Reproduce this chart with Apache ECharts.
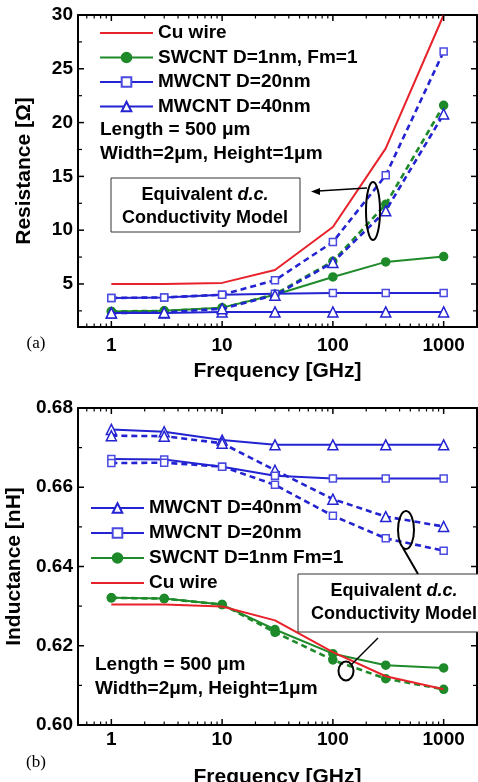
<!DOCTYPE html>
<html>
<head>
<meta charset="utf-8">
<script src="https://cdn.jsdelivr.net/npm/echarts@6/dist/echarts.min.js"></script>
<style>
html,body{margin:0;padding:0;background:#fff;}
#chart{width:478px;height:782px;}
</style>
</head>
<body>
<div id="chart"></div>
<script>
// ---------- DATA ----------
const freq = [1, 3, 10, 30, 100, 300, 1000];
const xMajorTicks = [1, 10, 100, 1000];
const xMinorTicks = [0.6, 0.7, 0.8, 0.9, 2, 3, 4, 5, 6, 7, 8, 9, 20, 30, 40, 50, 60, 70, 80, 90, 200, 300, 400, 500, 600, 700, 800, 900];

// (a) Resistance [Ohm]
const resTicks = [5, 10, 15, 20, 25, 30];
const resMinorTicks = [2.5, 7.5, 12.5, 17.5, 22.5, 27.5];
const resCu     = [5.0, 5.0, 5.1, 6.3, 10.3, 17.6, 30.0];
const resSW     = [2.45, 2.5, 2.8, 4.0, 5.65, 7.05, 7.55];
const resSWdc   = [2.45, 2.5, 2.75, 4.05, 7.1, 12.4, 21.6];
const resMW20   = [3.7, 3.75, 4.0, 4.1, 4.15, 4.15, 4.15];
const resMW20dc = [3.7, 3.75, 4.0, 5.35, 8.9, 15.1, 26.6];
const resMW40   = [2.3, 2.3, 2.4, 2.4, 2.4, 2.4, 2.4];
const resMW40dc = [2.3, 2.35, 2.7, 3.95, 7.0, 11.8, 20.8];

// (b) Inductance [nH]
const indTicks = [0.60, 0.62, 0.64, 0.66, 0.68];
const indMinorTicks = [0.61, 0.63, 0.65, 0.67];
const indMW40   = [0.6746, 0.6740, 0.6719, 0.6707, 0.6707, 0.6707, 0.6707];
const indMW40dc = [0.6730, 0.6729, 0.6711, 0.6643, 0.6570, 0.6526, 0.6501];
const indMW20   = [0.6671, 0.6670, 0.6652, 0.6629, 0.6622, 0.6622, 0.6622];
const indMW20dc = [0.6661, 0.6662, 0.6652, 0.6606, 0.6528, 0.6471, 0.6440];
const indSW     = [0.6321, 0.6319, 0.6304, 0.6241, 0.6180, 0.6151, 0.6144];
const indSWdc   = [0.6321, 0.6319, 0.6304, 0.6234, 0.6164, 0.6117, 0.6090];
const indCu     = [0.6304, 0.6304, 0.6299, 0.6264, 0.6184, 0.6123, 0.6090];

// ---------- STYLE ----------
const FONT = 'Liberation Sans, Arial, sans-serif';
const RED = '#e8222a', GREEN = '#1e8a2a', BLUE = '#2323d2', BLUE2 = '#4a4ae0';
const X_MIN = 0.5, X_MAX = 2000;
const RANGES = [[1, 30], [0.60, 0.68]];
const pairs = arr => freq.map((f, i) => [f, arr[i]]);

function xAxesFor(g, nameGap, labelMargin) {
  const base = {type: 'log', logBase: 10, gridIndex: g, min: X_MIN, max: X_MAX, splitLine: {show: false}, axisTick: {show: false}};
  const line = {show: true, onZero: false, lineStyle: {color: '#000', width: 2}};
  return [
    Object.assign({}, base, {
      position: 'bottom', axisLine: line,
      axisLabel: {show: true, customValues: xMajorTicks, formatter: v => String(Math.round(v)), margin: labelMargin,
        color: '#000', fontFamily: FONT, fontWeight: 'bold', fontSize: 19},
      name: 'Frequency [GHz]', nameLocation: 'middle', nameGap: nameGap,
      nameTextStyle: {color: '#000', fontFamily: FONT, fontWeight: 'bold', fontSize: 21}
    }),
    Object.assign({}, base, {position: 'top', axisLine: line, axisLabel: {show: false}})
  ];
}

function yAxesFor(g, major, fmt, name) {
  const base = {type: 'value', gridIndex: g, min: RANGES[g][0], max: RANGES[g][1], splitLine: {show: false}, axisTick: {show: false}};
  const line = {show: true, onZero: false, lineStyle: {color: '#000', width: 2}};
  return [
    Object.assign({}, base, {
      position: 'left', axisLine: line,
      axisLabel: {show: true, customValues: major, formatter: fmt, margin: 5, color: '#000', fontFamily: FONT, fontWeight: 'bold', fontSize: 19},
      name: name, nameLocation: 'middle', nameGap: 43, nameRotate: 90,
      nameTextStyle: {color: '#000', fontFamily: FONT, fontWeight: 'bold', fontSize: 21}
    }),
    Object.assign({}, base, {position: 'right', axisLine: line, axisLabel: {show: false}})
  ];
}

// tick marks drawn inside the frame through the axes' own scales
function tickSeries(g, values, dir, len) {
  const yr = RANGES[g];
  const data = values.map(v => dir === 'x' ? [v, yr[0]] : [X_MIN, v]);
  return {
    type: 'custom', xAxisIndex: g * 2, yAxisIndex: g * 2, silent: true, clip: false, z: 6,
    data: data, animation: false,
    renderItem: function (params, api) {
      const st = {stroke: '#000', lineWidth: len > 4 ? 1.5 : 1.2};
      if (dir === 'x') {
        const v = api.value(0);
        const a = api.coord([v, yr[0]]), b = api.coord([v, yr[1]]);
        return {type: 'group', children: [
          {type: 'line', shape: {x1: a[0], y1: a[1], x2: a[0], y2: a[1] - len}, style: st},
          {type: 'line', shape: {x1: b[0], y1: b[1], x2: b[0], y2: b[1] + len}, style: st}
        ]};
      }
      const v = api.value(1);
      const a = api.coord([X_MIN, v]), b = api.coord([X_MAX, v]);
      return {type: 'group', children: [
        {type: 'line', shape: {x1: a[0], y1: a[1], x2: a[0] + len, y2: a[1]}, style: st},
        {type: 'line', shape: {x1: b[0], y1: b[1], x2: b[0] - len, y2: b[1]}, style: st}
      ]};
    }
  };
}

function ser(name, data, g, color, opts) {
  const o = Object.assign({dashed: false, symbol: 'none', size: 7, fill: color, symColor: color}, opts || {});
  return {
    name: name, type: 'line', xAxisIndex: g * 2, yAxisIndex: g * 2,
    data: pairs(data), z: o.z || 3,
    showSymbol: o.symbol !== 'none', symbol: o.symbol, symbolSize: o.size,
    lineStyle: {color: color, width: o.dashed ? 2.6 : 2, type: o.dashed ? [6, 4] : 'solid'},
    itemStyle: {color: o.fill, borderColor: o.symColor, borderWidth: o.symbol === 'none' ? 0 : 1.5},
    emphasis: {disabled: true}, animation: false, clip: true
  };
}

const series = [
  // (a)
  ser('Cu wire', resCu, 0, RED, {z: 2}),
  ser('SWCNT D=1nm, Fm=1', resSW, 0, GREEN, {symbol: 'circle', size: 8}),
  ser('SW a dc', resSWdc, 0, GREEN, {symbol: 'circle', size: 8, dashed: true}),
  ser('MWCNT D=20nm', resMW20, 0, BLUE, {symbol: 'rect', size: 7, fill: '#fff', symColor: BLUE2}),
  ser('MW20 a dc', resMW20dc, 0, BLUE, {symbol: 'rect', size: 7, fill: '#fff', symColor: BLUE2, dashed: true}),
  ser('MWCNT D=40nm', resMW40, 0, BLUE, {symbol: 'triangle', size: 10, fill: '#fff', symColor: BLUE, z: 4}),
  ser('MW40 a dc', resMW40dc, 0, BLUE, {symbol: 'triangle', size: 10, fill: '#fff', symColor: BLUE, dashed: true, z: 4}),
  // (b)
  ser('MWCNT D=40nm ', indMW40, 1, BLUE, {symbol: 'triangle', size: 10, fill: '#fff', symColor: BLUE}),
  ser('MW40 b dc', indMW40dc, 1, BLUE, {symbol: 'triangle', size: 10, fill: '#fff', symColor: BLUE, dashed: true}),
  ser('MWCNT D=20nm ', indMW20, 1, BLUE, {symbol: 'rect', size: 7, fill: '#fff', symColor: BLUE2}),
  ser('MW20 b dc', indMW20dc, 1, BLUE, {symbol: 'rect', size: 7, fill: '#fff', symColor: BLUE2, dashed: true}),
  ser('SWCNT D=1nm Fm=1', indSW, 1, GREEN, {symbol: 'circle', size: 8}),
  ser('SW b dc', indSWdc, 1, GREEN, {symbol: 'circle', size: 8, dashed: true}),
  ser('Cu wire ', indCu, 1, RED, {z: 4}),
  // ticks
  tickSeries(0, xMajorTicks, 'x', 6), tickSeries(0, xMinorTicks, 'x', 3.5),
  tickSeries(0, resTicks, 'y', 6), tickSeries(0, resMinorTicks, 'y', 4),
  tickSeries(1, xMajorTicks, 'x', 6), tickSeries(1, xMinorTicks, 'x', 3.5),
  tickSeries(1, indTicks, 'y', 6), tickSeries(1, indMinorTicks, 'y', 4)
];

const lineIcon = 'path://M0,0L53,0L53,2L0,2Z';
const legendText = {color: '#000', fontFamily: FONT, fontWeight: 'bold', fontSize: 19, lineHeight: 20};
const legendBase = {orient: 'vertical', itemWidth: 53, itemHeight: 12, itemGap: 4.5, textStyle: legendText, selectedMode: false, padding: 0};

const txt = {fill: '#000', fontFamily: FONT, fontWeight: 'bold', fontSize: 19};
const boxText = (x, y) => ({
  type: 'text', x: x, y: y, z: 20,
  style: {
    text: 'Equivalent {i|d.c.}\nConductivity Model', align: 'center', verticalAlign: 'middle',
    fill: '#000', fontFamily: FONT, fontWeight: 'bold', fontSize: 18, lineHeight: 23,
    rich: {i: {fontStyle: 'italic', fontWeight: 'bold', fontFamily: FONT, fontSize: 18}}
  }
});

const graphic = [
  // (a) annotations
  {type: 'text', x: 100, y: 130, z: 20, style: Object.assign({text: 'Length = 500 \u03bcm', verticalAlign: 'middle'}, txt)},
  {type: 'text', x: 100, y: 154, z: 20, style: Object.assign({text: 'Width=2\u03bcm, Height=1\u03bcm', verticalAlign: 'middle'}, txt)},
  {type: 'rect', z: 19, shape: {x: 111, y: 178, width: 189, height: 54}, style: {fill: '#fff', stroke: '#333', lineWidth: 1}},
  boxText(205, 207),
  {type: 'ellipse', z: 20, shape: {cx: 373, cy: 211, rx: 7, ry: 29}, style: {fill: 'none', stroke: '#000', lineWidth: 2}},
  {type: 'line', z: 20, shape: {x1: 367, y1: 188, x2: 318, y2: 191}, style: {stroke: '#000', lineWidth: 1.5}},
  {type: 'polygon', z: 20, shape: {points: [[311, 191.5], [320, 188], [320, 195]]}, style: {fill: '#000'}},
  {type: 'text', x: 36, y: 344, z: 20, style: {text: '(a)', align: 'center', verticalAlign: 'middle', fill: '#000', fontFamily: 'Liberation Serif, Times New Roman, serif', fontSize: 17}},
  // (b) annotations
  {type: 'text', x: 95, y: 665, z: 20, style: Object.assign({text: 'Length = 500 \u03bcm', verticalAlign: 'middle'}, txt)},
  {type: 'text', x: 95, y: 689, z: 20, style: Object.assign({text: 'Width=2\u03bcm, Height=1\u03bcm', verticalAlign: 'middle'}, txt)},
  {type: 'rect', z: 19, shape: {x: 298, y: 574, width: 192, height: 58}, style: {fill: '#fff', stroke: '#333', lineWidth: 1}},
  boxText(394, 603),
  {type: 'ellipse', z: 20, shape: {cx: 406, cy: 530, rx: 8, ry: 19}, style: {fill: 'none', stroke: '#000', lineWidth: 2}},
  {type: 'line', z: 20, shape: {x1: 403, y1: 548, x2: 418, y2: 574}, style: {stroke: '#000', lineWidth: 2}},
  {type: 'ellipse', z: 20, shape: {cx: 346, cy: 671, rx: 7.5, ry: 9.5}, style: {fill: 'none', stroke: '#000', lineWidth: 2}},
  {type: 'line', z: 20, shape: {x1: 351, y1: 665, x2: 378, y2: 638}, style: {stroke: '#000', lineWidth: 1.5}},
  {type: 'text', x: 36, y: 763, z: 20, style: {text: '(b)', align: 'center', verticalAlign: 'middle', fill: '#000', fontFamily: 'Liberation Serif, Times New Roman, serif', fontSize: 17}}
];

const chart = echarts.init(document.getElementById('chart'), null, {renderer: 'canvas'});
chart.setOption({
  backgroundColor: '#fff',
  animation: false,
  grid: [
    {left: 78, top: 15, width: 399, height: 312, containLabel: false, outerBoundsMode: 'none'},
    {left: 78, top: 408, width: 399, height: 317, containLabel: false, outerBoundsMode: 'none'}
  ],
  xAxis: xAxesFor(0, 34, 9).concat(xAxesFor(1, 42, 5)),
  yAxis: yAxesFor(0, resTicks, v => String(v), 'Resistance [\u03a9]')
    .concat(yAxesFor(1, indTicks, v => Number(v).toFixed(2), 'Inductance [nH]')),
  legend: [
    Object.assign({}, legendBase, {left: 99, top: 23, data: [
      {name: 'Cu wire', icon: lineIcon, itemStyle: {borderWidth: 0}}, 'SWCNT D=1nm, Fm=1', 'MWCNT D=20nm', 'MWCNT D=40nm']}),
    Object.assign({}, legendBase, {left: 90, top: 498, itemGap: 5, data: [
      'MWCNT D=40nm ', 'MWCNT D=20nm ', 'SWCNT D=1nm Fm=1', {name: 'Cu wire ', icon: lineIcon, itemStyle: {borderWidth: 0}}],
      formatter: n => n.trim()})
  ],
  series: series,
  graphic: graphic
});
</script>
</body>
</html>
